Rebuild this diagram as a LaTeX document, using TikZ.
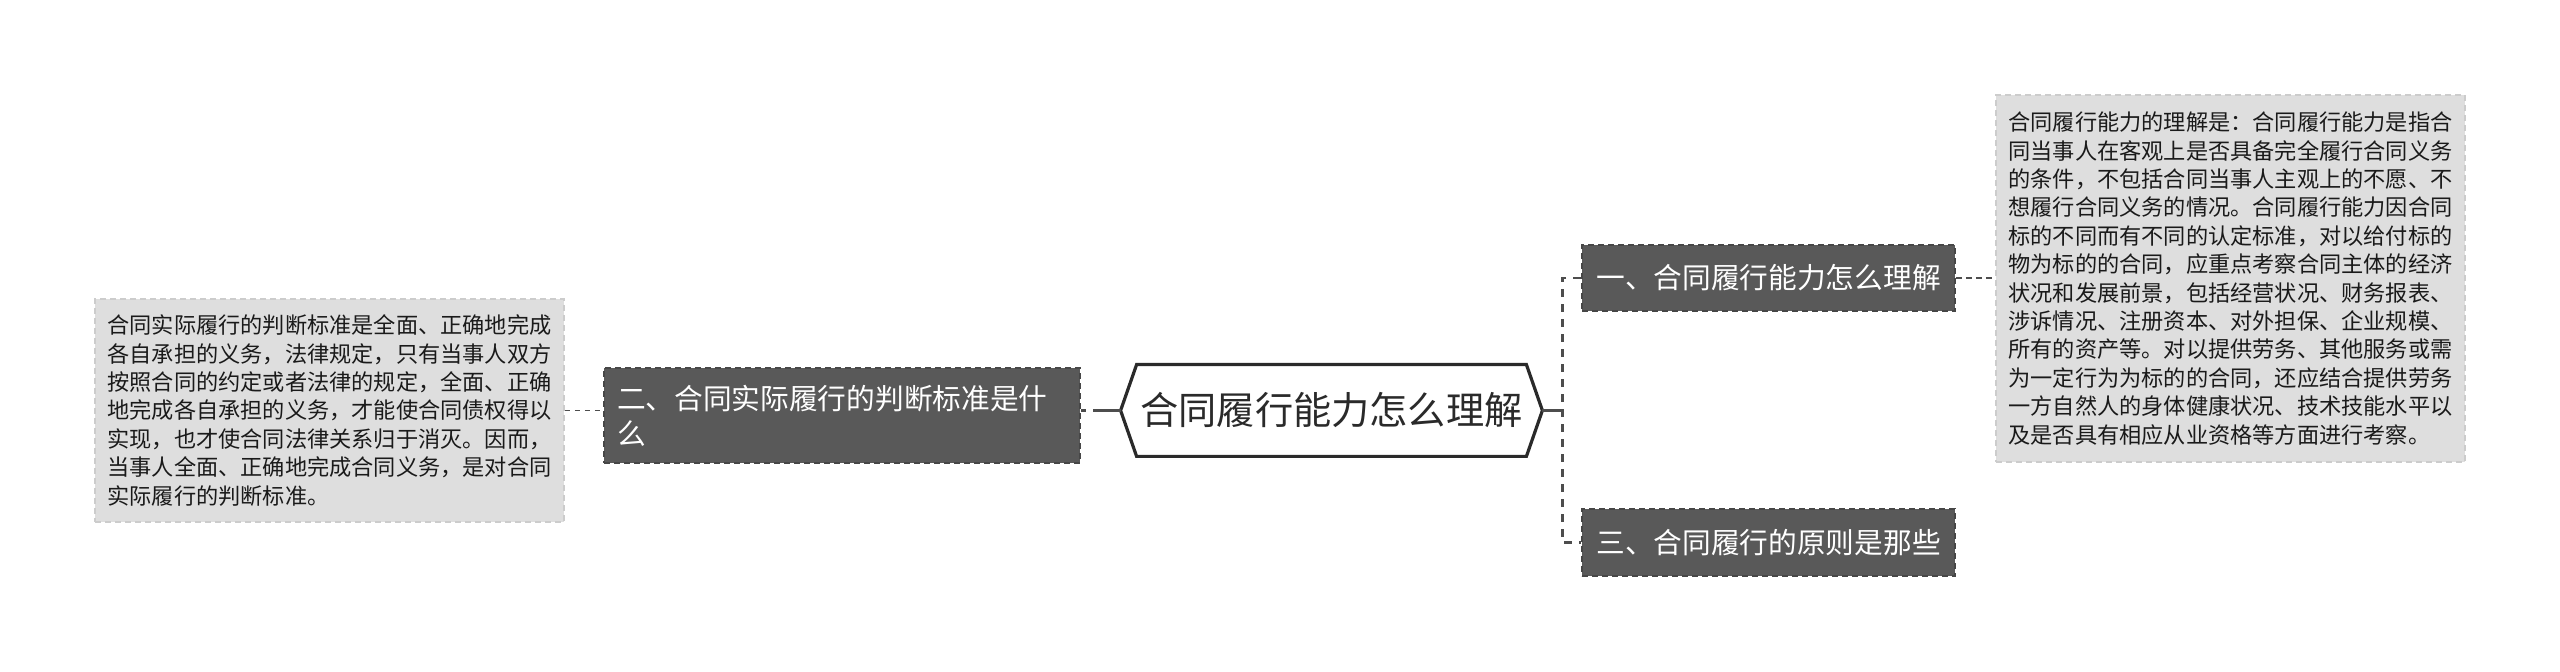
\documentclass[tikz,border=0pt]{standalone}
\usepackage{fontspec}
\setmainfont{Noto Sans CJK SC}
\usetikzlibrary{backgrounds}
\definecolor{boxfill}{HTML}{595959}
\definecolor{boxline}{HTML}{474747}
\definecolor{leaffill}{HTML}{DEDEDE}
\definecolor{leafline}{HTML}{CCCCCC}
\definecolor{leaftext}{HTML}{1A1A1A}
\definecolor{linkcol}{HTML}{4D4D4D}
\definecolor{hexcol}{HTML}{2A2A2A}
\begin{document}
\begin{tikzpicture}[x=0.5pt,y=-0.5pt,
  darkbox/.style={draw=boxline, fill=boxfill, dash pattern=on 3pt off 2pt, line width=0.9pt,
    inner sep=0pt, text=white, font=\fontsize{14.35pt}{17.5pt}\selectfont, align=left},
  leafbox/.style={draw=leafline, fill=leaffill, dash pattern=on 3pt off 2pt, line width=0.8pt,
    inner sep=0pt, text=leaftext, font=\fontsize{11.1pt}{14.2pt}\selectfont, align=left},
  hexline/.style={draw=hexcol, fill=white, line width=1.6pt, line join=miter},
  thinlink/.style={draw=linkcol, line width=0.85pt, dash pattern=on 2.8pt off 2.2pt},
  boldlink/.style={draw=linkcol, line width=1.4pt, dash pattern=on 4pt off 3.5pt},
  trunk/.style={draw=linkcol, line width=1.4pt}]

\useasboundingbox (0,0) rectangle (2560,672);

% central hexagon
\node[inner sep=0pt, minimum width=194.5pt, minimum height=45.5pt,
  font=\fontsize{19.1pt}{22pt}\selectfont, text=hexcol] (hex) at (1331.5,410.5) {合同履行能力怎么理解};
\begin{scope}[on background layer]
\draw[hexline] (hex.north west) -- (hex.north east) -- ([xshift=8pt]hex.east) coordinate (hexR)
  -- (hex.south east) -- (hex.south west) -- ([xshift=-8pt]hex.west) coordinate (hexL) -- cycle;
\end{scope}

% branch boxes
\node[darkbox, minimum width=186.5pt, minimum height=33pt] (b1) at (1768.5,278) {一、合同履行能力怎么理解};
\node[darkbox, minimum width=186.5pt, minimum height=33.5pt] (b3) at (1768.5,542.5) {三、合同履行的原则是那些};
\node[darkbox, minimum width=238pt, minimum height=47.5pt, text width=225pt] (b2) at (842,415.5)
  {二、合同实际履行的判断标准是什\\么};

% leaf boxes
\node[leafbox, minimum width=234.5pt, minimum height=111.5pt] (leafL) at (329.5,410.5)
  {合同实际履行的判断标准是全面、正确地完成\\
   各自承担的义务，法律规定，只有当事人双方\\
   按照合同的约定或者法律的规定，全面、正确\\
   地完成各自承担的义务，才能使合同债权得以\\
   实现，也才使合同法律关系归于消灭。因而，\\
   当事人全面、正确地完成合同义务，是对合同\\
   实际履行的判断标准。};
\node[leafbox, minimum width=234.5pt, minimum height=183.5pt] (leafR) at (2230.5,278.5)
  {合同履行能力的理解是：合同履行能力是指合\\
   同当事人在客观上是否具备完全履行合同义务\\
   的条件，不包括合同当事人主观上的不愿、不\\
   想履行合同义务的情况。合同履行能力因合同\\
   标的不同而有不同的认定标准，对以给付标的\\
   物为标的的合同，应重点考察合同主体的经济\\
   状况和发展前景，包括经营状况、财务报表、\\
   涉诉情况、注册资本、对外担保、企业规模、\\
   所有的资产等。对以提供劳务、其他服务或需\\
   为一定行为为标的的合同，还应结合提供劳务\\
   一方自然人的身体健康状况、技术技能水平以\\
   及是否具有相应从业资格等方面进行考察。};

% connectors
\draw[trunk, dash pattern=on 14pt off 3.5pt] (hexL) -- (b2.east |- hexL);
\draw[trunk] (hexR) -- ++(20,0) coordinate (jn);
\draw[boldlink] (b1.west) -- (b1.west -| jn) -- (b3.west -| jn) -- (b3.west);
\draw[thinlink] (b1.east) -- (leafR.west |- b1.east);
\draw[thinlink] (leafL.east |- hexL) -- (b2.west |- hexL);
\end{tikzpicture}
\end{document}
